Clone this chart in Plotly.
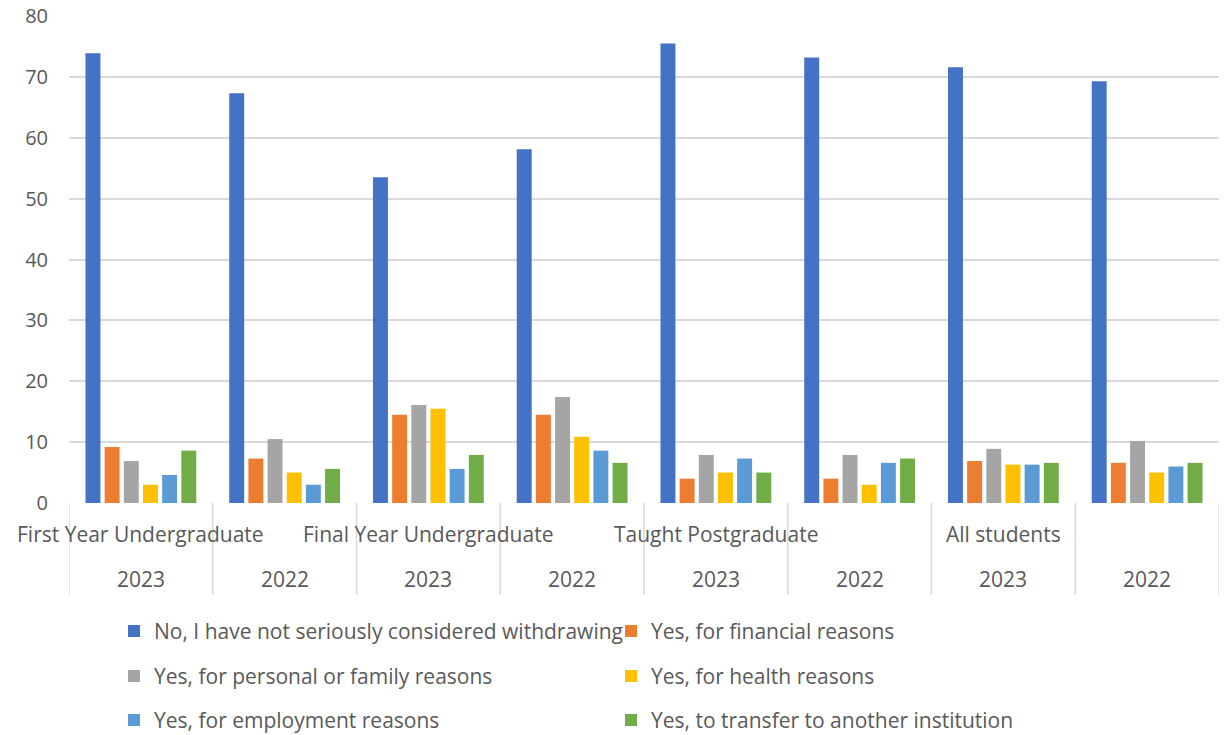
import plotly.graph_objects as go

# Student groups and survey years (each group shown for 2023 then 2022)
groups = ["First Year Undergraduate", "Final Year Undergraduate", "Taught Postgraduate", "All students"]
years = ["2023", "2022"]

series_names = [
    "No, I have not seriously considered withdrawing",
    "Yes, for financial reasons",
    "Yes, for personal or family reasons",
    "Yes, for health reasons",
    "Yes, for employment reasons",
    "Yes, to transfer to another institution",
]

# Percentages per category, in order: FYU 2023, FYU 2022, FinYU 2023, FinYU 2022,
# TPG 2023, TPG 2022, All 2023, All 2022
not_considered = [73.9, 67.3, 53.5, 58.1, 75.5, 73.2, 71.6, 69.3]
financial = [9.2, 7.3, 14.5, 14.5, 4.0, 4.0, 6.9, 6.6]
personal_family = [6.9, 10.5, 16.1, 17.4, 7.9, 7.9, 8.9, 10.2]
health = [3.0, 5.0, 15.5, 10.9, 5.0, 3.0, 6.3, 5.0]
employment = [4.6, 3.0, 5.6, 8.6, 7.3, 6.6, 6.3, 6.0]
transfer = [8.6, 5.6, 7.9, 6.6, 5.0, 7.3, 6.6, 6.6]

y_ticks = [0, 10, 20, 30, 40, 50, 60, 70, 80]

colors = ["#4472C4", "#ED7D31", "#A5A5A5", "#FFC000", "#5B9BD5", "#70AD47"]
values = [not_considered, financial, personal_family, health, employment, transfer]

TEXT = "#595959"
GRID = "#D9D9D9"
FONT = "Open Sans"
FS = 21

categories = [f"{g} {y}" for g in groups for y in years]

# legend rows: two entries per row
legend_keys = ["legend", "legend", "legend2", "legend2", "legend3", "legend3"]

fig = go.Figure()
for name, vals, col, lg in zip(series_names, values, colors, legend_keys):
    fig.add_trace(go.Bar(
        x=categories, y=vals, name=name,
        marker=dict(color=col, line=dict(width=0)),
        legend=lg,
    ))

# plot area in pixels
W, H = 1228, 735
L, R, T, B = 69, 1219, 16, 503.5
ph = B - T


def py(px):
    return (B - px) / ph


annotations = []
# year labels in each cell
for i, cat in enumerate(categories):
    annotations.append(dict(
        x=cat, xref="x", y=py(580), yref="paper",
        text=years[i % 2], showarrow=False,
        font=dict(family=FONT, size=FS, color=TEXT),
        xanchor="center", yanchor="middle",
    ))
# group labels, centred on the first cell of each group
for gi, g in enumerate(groups):
    annotations.append(dict(
        x=categories[gi * 2], xref="x", y=py(535), yref="paper",
        text=g, showarrow=False,
        font=dict(family=FONT, size=FS, color=TEXT),
        xanchor="center", yanchor="middle",
    ))

# cell dividers under the category axis
shapes = []
for k in range(len(categories) + 1):
    shapes.append(dict(
        type="line", xref="x", yref="paper",
        x0=k - 0.5, x1=k - 0.5, y0=0, y1=py(595),
        line=dict(color=GRID, width=1.5),
    ))

legend_common = dict(
    orientation="h", entrywidth=452, entrywidthmode="pixels",
    xanchor="left", yanchor="middle", x=(114 - L) / (R - L),
    font=dict(family=FONT, size=FS, color=TEXT),
    bgcolor="rgba(0,0,0,0)", borderwidth=0, traceorder="normal",
)

fig.update_layout(
    width=W, height=H,
    margin=dict(l=L, r=W - R, t=T, b=H - B, pad=0, autoexpand=False),
    paper_bgcolor="white", plot_bgcolor="white",
    barmode="group", bargap=0.2, bargroupgap=0.22,
    font=dict(family=FONT, size=FS, color=TEXT),
    xaxis=dict(
        type="category", showticklabels=False, ticks="",
        showgrid=False, showline=False, zeroline=False,
        range=[-0.5, len(categories) - 0.5],
    ),
    yaxis=dict(
        range=[0, 80], tickvals=y_ticks, ticktext=[str(v) for v in y_ticks],
        showgrid=True, gridcolor=GRID, gridwidth=1.5,
        zeroline=False, showline=False, ticks="",
        ticklabelstandoff=20,
        tickfont=dict(family=FONT, size=20, color=TEXT),
    ),
    legend=dict(legend_common, y=py(632)),
    legend2=dict(legend_common, y=py(677)),
    legend3=dict(legend_common, y=py(721)),
    annotations=annotations,
    shapes=shapes,
    showlegend=True,
)

fig.write_html("out.html")
